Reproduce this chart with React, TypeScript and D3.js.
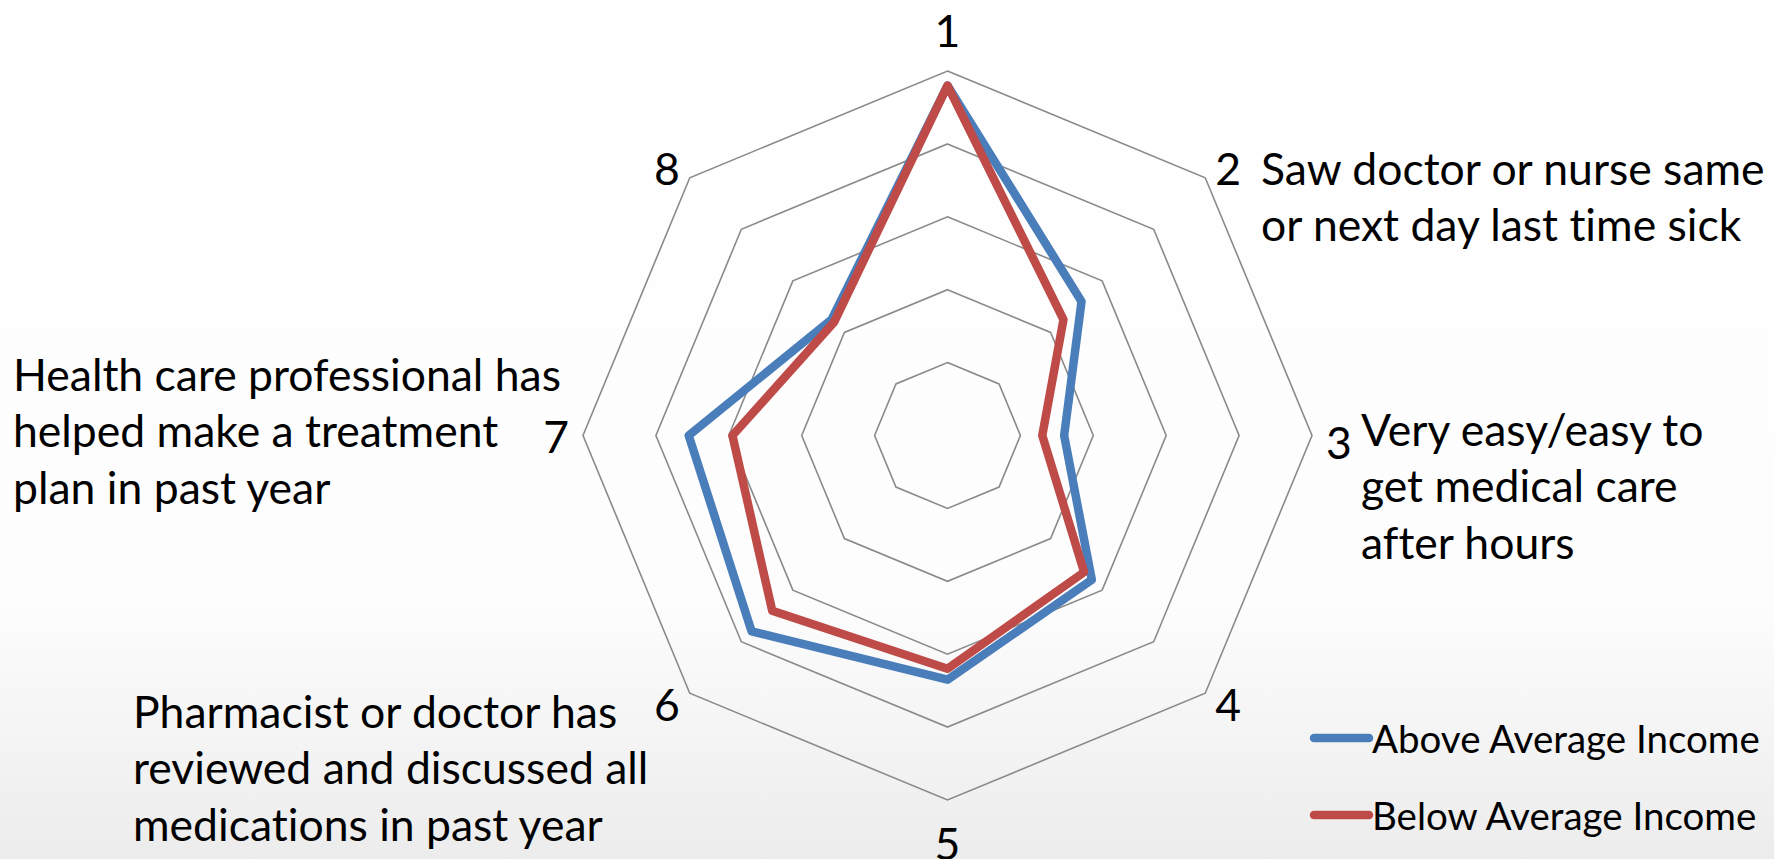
import React from "react";
import { scaleLinear, lineRadial, curveLinearClosed } from "d3";

// axis numbers round the radar, clockwise from the top
const axes = ["1", "2", "3", "4", "5", "6", "7", "8"];
const above = [96, 52, 32, 56, 67, 76, 71, 45];
const below = [96, 45, 26, 53, 64, 68, 59, 44];
const gridTicks = [20, 40, 60, 80, 100];

const seriesNames = ["Above Average Income", "Below Average Income"];
const seriesColors = ["#4a7ebb", "#be4b48"];

// long descriptions sitting next to some of the axes
const noteAxis2 = ["Saw doctor or nurse same", "or next day last time sick"];
const noteAxis3 = ["Very easy/easy to", "get medical care", "after hours"];
const noteAxis7 = ["Health care professional has", "helped make a treatment", "plan in past year"];
const noteAxis6 = ["Pharmacist or doctor has", "reviewed and discussed all", "medications in past year"];

const W = 1774;
const H = 859;
const cx = 947.5;
const cy = 435.5;
const R = 364.5;
const font = "Lato, 'Open Sans', sans-serif";
const fs = 44.5;
const lh = 56.6;

export default function App() {
  const r = scaleLinear().domain([0, 100]).range([0, R]);
  const step = (Math.PI * 2) / axes.length;

  const radial = lineRadial<number>()
    .angle((_, i) => i * step)
    .radius(d => r(d))
    .curve(curveLinearClosed);

  const ring = (v: number) => radial(axes.map(() => v));

  // axis number placement: just outside the outer ring, anchored away from it
  const numLabel = (i: number) => {
    const a = i * step;
    const sx = Math.sin(a);
    const sy = -Math.cos(a);
    const vx = cx + sx * r(100);
    const vy = cy + sy * r(100);
    if (Math.abs(sx) < 0.01) {
      return { x: vx, y: vy + sy * 42, anchor: "middle" };
    }
    return {
      x: vx + sx * 14,
      y: vy + sy * 14 + (i === 2 ? 6 : 0),
      anchor: sx > 0 ? "start" : "end",
    };
  };

  const note = (lines: string[], x: number, y0: number) =>
    lines.map((t, k) => (
      <text key={k} x={x} y={y0 + k * lh} dominantBaseline="central" fontSize={fs}>
        {t}
      </text>
    ));

  return (
    <svg
      width={W}
      height={H}
      style={{ position: "fixed", left: 0, top: 0, fontVariantLigatures: "none", fontFeatureSettings: '"liga" 0, "clig" 0' }}
      fontFamily={font}
      fill="#000"
    >
      <defs>
        <linearGradient id="bg" x1="0" y1="0" x2="0" y2="1">
          <stop offset="0" stopColor="#ffffff" />
          <stop offset="0.7" stopColor="#fdfdfd" />
          <stop offset="1" stopColor="#ececec" />
        </linearGradient>
      </defs>
      <rect width={W} height={H} fill="url(#bg)" />

      <g transform={`translate(${cx}, ${cy})`}>
        {gridTicks.map(t => (
          <path key={t} d={ring(t)} fill="none" stroke="#8a8a8a" strokeWidth={1.6} />
        ))}
        {[above, below].map((s, k) => (
          <path
            key={k}
            d={radial(s)}
            fill="none"
            stroke={seriesColors[k]}
            strokeWidth={8.5}
            strokeLinejoin="round"
          />
        ))}
      </g>

      {axes.map((a, i) => {
        const p = numLabel(i);
        return (
          <text key={a} x={p.x} y={p.y} textAnchor={p.anchor} dominantBaseline="central" fontSize={fs}>
            {a}
          </text>
        );
      })}

      {note(noteAxis2, 1261, 167)}
      {note(noteAxis3, 1361, 428)}
      {note(noteAxis7, 13, 373)}
      {note(noteAxis6, 133, 710)}

      {seriesNames.map((n, k) => (
        <g key={n} transform={`translate(0, ${738 + k * 77})`}>
          <line x1={1314} x2={1369} y1={0} y2={0} stroke={seriesColors[k]} strokeWidth={8.5} strokeLinecap="round" />
          <text x={1372} y={0} dominantBaseline="central" fontSize={38.5}>
            {n}
          </text>
        </g>
      ))}
    </svg>
  );
}
